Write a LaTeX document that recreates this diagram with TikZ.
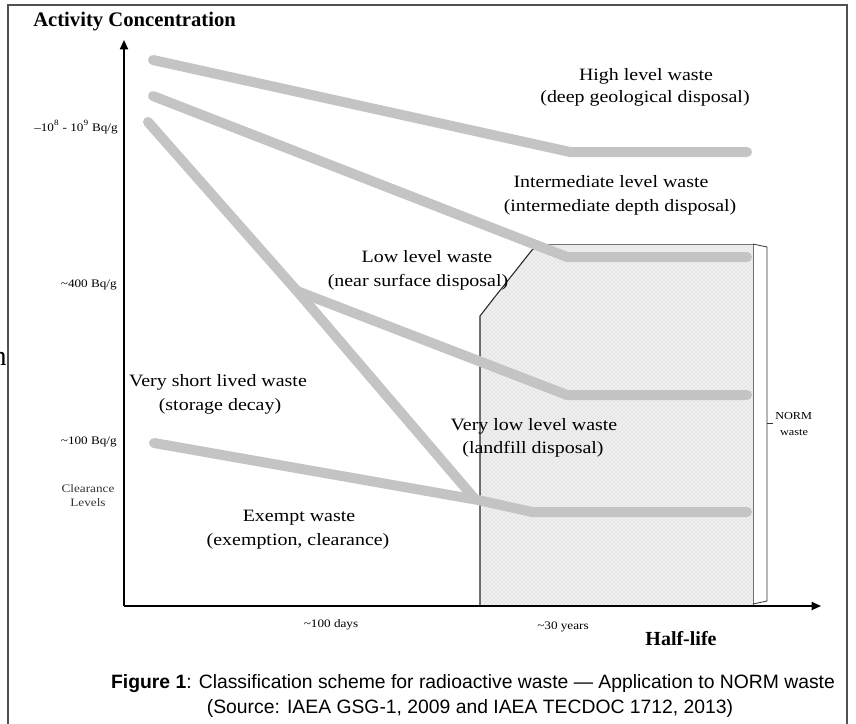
\documentclass[tikz,border=0pt]{standalone}
\usepackage{fontspec}
\setmainfont{Liberation Serif}
\newfontfamily\dfont{Liberation Serif}[FakeStretch=1.15]
\newfontfamily\cfont{Liberation Sans}
\usetikzlibrary{patterns,arrows.meta}
\definecolor{bandgray}{HTML}{C4C4C4}
\definecolor{framegray}{HTML}{505050}
\begin{document}
\begin{tikzpicture}[x=0.75pt,y=-0.75pt,
  bandline/.style={draw=bandgray,line width=7.5pt,line cap=round,line join=round},
  lbl/.style={font=\dfont\fontsize{13}{15}\selectfont,inner sep=0pt,anchor=base},
  small/.style={font=\dfont\fontsize{8.6}{10}\selectfont,inner sep=0pt},
  axisline/.style={line width=1.4pt,-{Triangle[length=7pt,width=6pt]}},
  bigbold/.style={font=\bfseries\fontsize{15}{17}\selectfont,inner sep=0pt,anchor=base},
  capt/.style={font=\cfont\fontsize{14.5}{17}\selectfont,inner sep=0pt,anchor=base}
]
\useasboundingbox (0,0) rectangle (856,724);
% frame
\draw[framegray,line width=0.9pt] (8,730) -- (8,5) -- (847,5) -- (847,730);
\node[font=\fontsize{21}{22}\selectfont,inner sep=0pt,anchor=base east] (cut) at (7,365) {n};

% shaded region
\coordinate (s1) at (480,606);
\coordinate (s2) at (480,316);
\coordinate (s3) at (494,298);
\coordinate (s4) at (532,250);
\coordinate (s5) at (538,244);
\coordinate (s6) at (753,244);
\coordinate (s7) at (753,606);
\fill[black!6] (s1) -- (s2) -- (s3) -- (s4) -- (s5) -- (s6) -- (s7) -- cycle;
\fill[pattern=crosshatch dots,pattern color=black!22] (s1) -- (s2) -- (s3) -- (s4) -- (s5) -- (s6) -- (s7) -- cycle;
\draw[black!85,line width=0.8pt] (s1) -- (s2) -- (s3) -- (s4) -- (s5);
\draw[black!55,line width=0.6pt] (s5) -- (s6) -- (s7);

% NORM bracket
\coordinate (b1) at (753,244);
\coordinate (b2) at (767,247);
\coordinate (b3) at (767,601);
\coordinate (b4) at (753,604);
\coordinate (bm) at (767,423);
\coordinate (bt) at (773,423);
\draw[black!80,line width=0.6pt] (b1) -- (b2) -- (b3) -- (b4);
\draw[black!80,line width=0.6pt] (bm) -- (bt);
\node[small,anchor=base west,font=\dfont\fontsize{8}{10}\selectfont] (norm1) at (775,419) {NORM};
\node[small,anchor=base,font=\dfont\fontsize{8}{10}\selectfont] (norm2) at (794,435) {waste};

% bands
\coordinate (h0) at (153,60);
\coordinate (h1) at (570,152);
\coordinate (h2) at (747,152);
\draw[bandline] (h0) -- (h1) -- (h2);
\coordinate (i0) at (153,96);
\coordinate (i1) at (567,257);
\coordinate (i2) at (747,257);
\draw[bandline] (i0) -- (i1) -- (i2);
\coordinate (v0) at (148,122);
\coordinate (vj) at (297,291);
\coordinate (v1) at (474,498);
\draw[bandline] (v0) -- (vj) -- (v1);
\coordinate (l1) at (567,395);
\coordinate (l2) at (747,395);
\draw[bandline] (vj) -- (l1) -- (l2);
\coordinate (e0) at (154,443);
\coordinate (e1) at (478,500);
\coordinate (e2) at (532,512);
\coordinate (e3) at (747,512);
\draw[bandline] (e0) -- (e1) -- (e2) -- (e3);

% axes
\coordinate (O) at (124,606);
\coordinate (ytop) at (124,40);
\coordinate (xend) at (821,606);
\draw[axisline] (O) -- (ytop);
\draw[axisline] (O) -- (xend);

% axis titles
\node[bigbold,anchor=base west,font=\bfseries\fontsize{15.5}{17}\selectfont] (ytitle) at (33,27) {Activity Concentration};
\node[bigbold] (xtitle) at (681,645) {Half-life};

% y labels
\node[small,anchor=base east] (ya) at (118,131) {–10\textsuperscript{8} - 10\textsuperscript{9} Bq/g};
\node[small,anchor=base east] (yb) at (117,287) {\textasciitilde400 Bq/g};
\node[small,anchor=base east] (yc) at (117,444) {\textasciitilde100 Bq/g};
\node[small,anchor=base,text=black!80] (yd) at (88,492) {Clearance};
\node[small,anchor=base,text=black!80] (ye) at (88,506) {Levels};

% x labels
\node[small,anchor=base] (xa) at (331,627) {\textasciitilde100 days};
\node[small,anchor=base] (xb) at (563,629) {\textasciitilde30 years};

% class labels
\node[lbl] (hl1) at (646,80) {High level waste};
\node[lbl] (hl2) at (645,103) {(deep geological disposal)};
\node[lbl] (il1) at (611,187) {Intermediate level waste};
\node[lbl] (il2) at (620,211) {(intermediate depth disposal)};
\node[lbl] (ll1) at (427,262) {Low level waste};
\node[lbl] (ll2) at (418,286) {(near surface disposal)};
\node[lbl] (vs1) at (218,386) {Very short lived waste};
\node[lbl] (vs2) at (220,410) {(storage decay)};
\node[lbl] (vl1) at (534,430) {Very low level waste};
\node[lbl] (vl2) at (533,453) {(landfill disposal)};
\node[lbl] (ex1) at (299,521) {Exempt waste};
\node[lbl] (ex2) at (298,545) {(exemption, clearance)};

% caption
\node[capt] (cap1) at (473,688) {\textbf{Figure 1}: Classification scheme for radioactive waste — Application to NORM waste};
\node[capt] (cap2) at (470,713) {(Source: IAEA GSG-1, 2009 and IAEA TECDOC 1712, 2013)};
\end{tikzpicture}
\end{document}
